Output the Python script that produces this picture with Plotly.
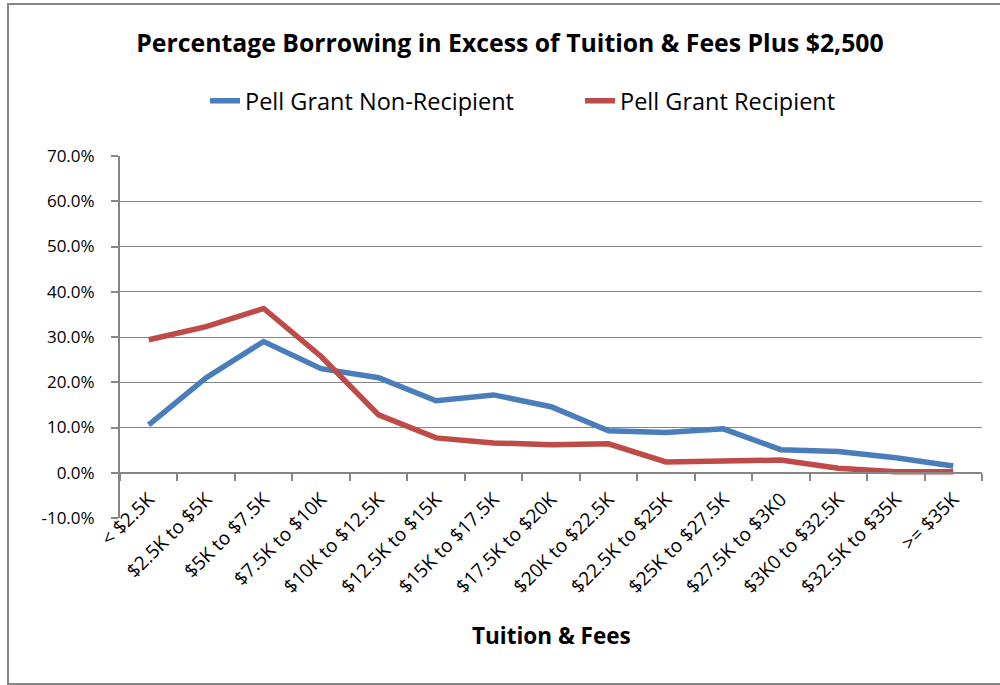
import plotly.graph_objects as go

categories = ["< $2.5K", "$2.5K to $5K", "$5K to $7.5K", "$7.5K to $10K",
              "$10K to $12.5K", "$12.5K to $15K", "$15K to $17.5K", "$17.5K to $20K",
              "$20K to $22.5K", "$22.5K to $25K", "$25K to $27.5K", "$27.5K to $3K0",
              "$3K0 to $32.5K", "$32.5K to $35K", ">= $35K"]
non_recipient = [10.6, 21.0, 29.0, 23.0, 21.0, 15.9, 17.2, 14.6,
                 9.3, 8.9, 9.7, 5.1, 4.7, 3.3, 1.5]
recipient = [29.4, 32.3, 36.3, 25.7, 12.8, 7.7, 6.6, 6.2,
             6.4, 2.4, 2.6, 2.8, 1.0, 0.2, 0.2]
y_ticks = [-10, 0, 10, 20, 30, 40, 50, 60, 70]

FONT = "'Open Sans', Lato, sans-serif"
GRID = "#868686"

fig = go.Figure()
fig.add_trace(go.Scatter(x=categories, y=non_recipient, mode="lines",
                         name="Pell Grant Non-Recipient",
                         line=dict(color="#4A7EBB", width=5.5)))
fig.add_trace(go.Scatter(x=categories, y=recipient, mode="lines",
                         name="Pell Grant Recipient",
                         line=dict(color="#BE4B48", width=5.5)))

# plot area in pixels: x 120..982, y 156..518
W, H = 1000, 685
L, R, T, B = 120, 982, 156, 518
pw, ph = R - L, B - T

def px(x):
    return (x - L) / pw

def py(y):
    return (B - y) / ph

fig.update_layout(
    width=W, height=H,
    margin=dict(l=L, r=W - R, t=T, b=H - B),
    paper_bgcolor="white", plot_bgcolor="white",
    font=dict(family=FONT, color="#000000"),
    title=dict(text="<b>Percentage Borrowing in Excess of Tuition & Fees Plus $2,500</b>",
               x=px(510), xref="paper", xanchor="center", yref="container", y=1 - 43 / H,
               yanchor="middle",
               font=dict(size=24.8, family=FONT, color="#000000")),
    legend=dict(orientation="h", x=px(205), xanchor="left", y=py(101), yanchor="middle",
                entrywidth=330, entrywidthmode="pixels",
                font=dict(size=23.5, family=FONT), bgcolor="rgba(0,0,0,0)"),
    xaxis=dict(type="category", anchor="free", position=10 / 80,
               showline=True, linecolor=GRID, linewidth=2,
               ticks="outside", tickson="boundaries", ticklen=7, tickcolor=GRID, tickwidth=1.5,
               tickangle=-45, tickfont=dict(size=19, family=FONT), ticklabelstandoff=7,
               showgrid=False, range=[-0.5, len(categories) - 0.5]),
    yaxis=dict(range=[-10, 70], tickvals=y_ticks, ticktext=[f"{v:.1f}%" for v in y_ticks],
               showline=True, linecolor=GRID, linewidth=2,
               ticks="outside", ticklen=7, tickcolor=GRID, tickwidth=1.5,
               ticklabelstandoff=13,
               showgrid=True, gridcolor=GRID, gridwidth=1, zeroline=False,
               tickfont=dict(size=17, family=FONT)),
    showlegend=True,
)

fig.add_annotation(text="<b>Tuition & Fees</b>", xref="paper", yref="paper",
                   x=px(551), y=py(635), xanchor="center", yanchor="middle", showarrow=False,
                   font=dict(size=22.5, family=FONT, color="#000000"))

fig.add_shape(type="rect", xref="paper", yref="paper",
              x0=px(8), x1=px(1010), y0=py(684), y1=py(4),
              line=dict(color=GRID, width=2), fillcolor="rgba(0,0,0,0)", layer="below")

fig.write_html("out.html", config={"displayModeBar": False},
               post_script="document.body.style.margin='0';document.body.style.overflow='hidden';")
